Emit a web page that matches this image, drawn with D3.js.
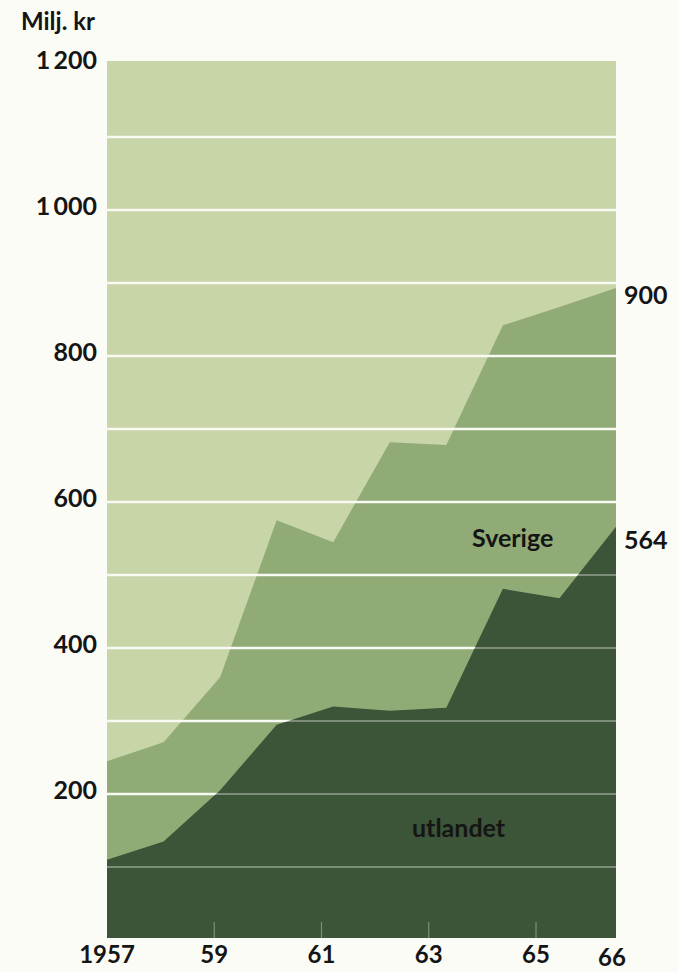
<!DOCTYPE html>
<html><head><meta charset="utf-8">
<script src="https://cdn.jsdelivr.net/npm/d3@7"></script>
<style>
html,body{margin:0;padding:0;background:#fcfcf7;}
svg{display:block;}
text{font-family:Lato,"Open Sans",sans-serif;font-weight:700;fill:#151515;}
</style>
</head><body>
<svg id="chart" width="678" height="972"></svg>
<script>
// ---- data (Milj. kr) ----
const years = [1957, 1958, 1959, 1960, 1961, 1962, 1963, 1964, 1965, 1966];
const utlandet = [110, 135, 205, 295, 320, 314, 318, 481, 468, 566];
const sverige  = [135, 136, 155, 280, 225, 368, 360, 361, 399, 327];
const seriesNames = ["utlandet", "Sverige"];
const yTickValues = [200, 400, 600, 800, 1000, 1200];
const gridValues = [100, 200, 300, 400, 500, 600, 700, 800, 900, 1000, 1100];
const xTickYears = [1957, 1959, 1961, 1963, 1965, 1966];
const xTickLabels = ["1957", "59", "61", "63", "65", "66"];
const endLabels = [900, 564];
const unitLabel = "Milj. kr";

// ---- layout ----
const plot = {left: 107, right: 616, top: 61, bottom: 938};
const colors = {bg: "#c8d5a8", sverige: "#91ab76", utlandet: "#3c5437"};

const svg = d3.select("#chart");
const x = d3.scaleLinear().domain([years[0], years[years.length - 1]]).range([plot.left, plot.right]);
const y = d3.scaleLinear().domain([0, 1200]).range([940, 64]);
// printed year labels sit on their own (hand-set) positions
const xLabel = d3.scaleLinear().domain([1957, 1965, 1966]).range([107, 536, 612]);

const rows = years.map((yr, i) => ({year: yr, utlandet: utlandet[i], Sverige: sverige[i]}));
const stacked = d3.stack().keys(seriesNames)(rows);

const fmt = d3.formatLocale({decimal: ",", thousands: "\u2009", grouping: [3], currency: ["", ""]}).format(",d");

svg.append("rect")
  .attr("x", plot.left).attr("y", plot.top)
  .attr("width", plot.right - plot.left).attr("height", plot.bottom - plot.top)
  .attr("fill", colors.bg);

const area = d3.area()
  .x(d => x(d.data.year))
  .y0(d => d[0] === 0 ? plot.bottom : y(d[0]))
  .y1(d => y(d[1]));

const areaTotal = d3.area()
  .x(d => x(d.data.year))
  .y0(plot.bottom)
  .y1(d => y(d[1]));

svg.append("path").datum(stacked[1]).attr("d", areaTotal).attr("fill", colors.sverige);

svg.append("g").selectAll("line").data(gridValues).join("line")
  .attr("x1", plot.left).attr("x2", plot.right)
  .attr("y1", d => y(d)).attr("y2", d => y(d))
  .attr("stroke", "#f8f8ef").attr("stroke-width", 2.4);

svg.append("path").datum(stacked[0]).attr("d", area).attr("fill", colors.utlandet);

svg.append("g").selectAll("line").data(gridValues).join("line")
  .attr("x1", plot.left).attr("x2", plot.right)
  .attr("y1", d => y(d)).attr("y2", d => y(d))
  .attr("stroke", "#ffffff").attr("stroke-opacity", 0.45).attr("stroke-width", 1.6);

svg.append("g").selectAll("line").data(xTickYears.slice(1, 5)).join("line")
  .attr("x1", d => xLabel(d)).attr("x2", d => xLabel(d))
  .attr("y1", plot.bottom - 16).attr("y2", plot.bottom)
  .attr("stroke", "#ffffff").attr("stroke-opacity", 0.35).attr("stroke-width", 1.2);

svg.append("g").selectAll("text").data(yTickValues).join("text")
  .attr("x", 97).attr("y", d => y(d) + 5)
  .attr("text-anchor", "end").attr("font-size", 25)
  .text(d => fmt(d));

svg.append("text").attr("x", 95).attr("y", 30)
  .attr("text-anchor", "end").attr("font-size", 24).text(unitLabel);

svg.append("g").selectAll("text").data(xTickYears).join("text")
  .attr("x", d => xLabel(d)).attr("y", (d, i) => i === xTickYears.length - 1 ? 966 : 963)
  .attr("text-anchor", "middle").attr("font-size", 24)
  .text((d, i) => xTickLabels[i]);

svg.append("g").selectAll("text").data(endLabels).join("text")
  .attr("x", 624).attr("y", d => y(d) + 21)
  .attr("font-size", 25)
  .text(d => d);

svg.append("text").attr("x", 472).attr("y", 547).attr("font-size", 25).text("Sverige");
svg.append("text").attr("x", 412).attr("y", 837).attr("font-size", 25).text("utlandet");
</script>
</body></html>
